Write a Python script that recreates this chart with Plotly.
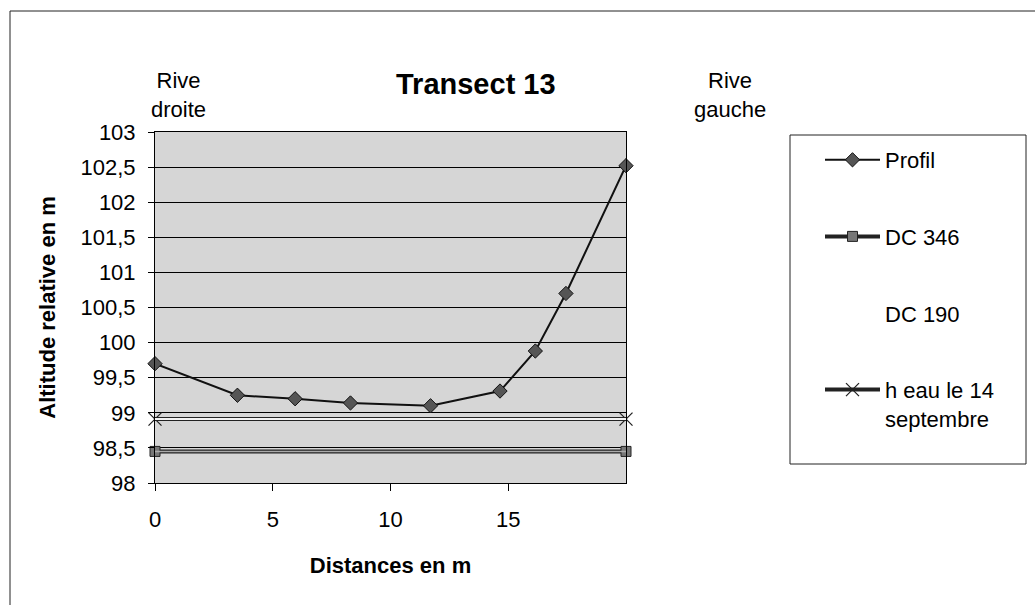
import plotly.graph_objects as go

# ---- data ----
profil_x = [0, 3.5, 5.95, 8.3, 11.7, 14.65, 16.15, 17.45, 20]
profil_y = [99.70, 99.25, 99.20, 99.14, 99.10, 99.31, 99.88, 100.70, 102.52]
dc346_x = [0, 20]
dc346_y = [98.45, 98.45]
dc190_x = [0, 20]
dc190_y = [None, None]
heau_x = [0, 20]
heau_y = [98.91, 98.91]
x_ticks = [0, 5, 10, 15]
y_ticks = [98, 98.5, 99, 99.5, 100, 100.5, 101, 101.5, 102, 102.5, 103]

FONT = "Liberation Sans, Arial, sans-serif"
W, H = 1035, 605
L, R, T, B = 155, 626, 132, 483  # plot area in pixels


def px(x):
    return (x - L) / (R - L)


def py(y):
    return (B - y) / (B - T)


fig = go.Figure()

# DC 346 (double-line look)
fig.add_trace(go.Scatter(x=dc346_x, y=dc346_y, mode="lines+markers", name="DC 346",
                         legendgroup="b", legendrank=2, cliponaxis=False,
                         line=dict(color="#222222", width=4),
                         marker=dict(symbol="square", size=10, color="#777777",
                                     line=dict(color="#222222", width=1))))
fig.add_trace(go.Scatter(x=dc346_x, y=dc346_y, mode="lines", showlegend=False,
                         hoverinfo="skip", cliponaxis=False,
                         line=dict(color="#aaaaaa", width=1.5)))
# DC 190 (no visible data)
fig.add_trace(go.Scatter(x=dc190_x, y=dc190_y, mode="lines", name="DC 190",
                         legendgroup="c", legendrank=3,
                         line=dict(color="rgba(0,0,0,0)", width=0)))
# h eau le 14 septembre
fig.add_trace(go.Scatter(x=heau_x, y=heau_y, mode="lines+markers",
                         name="h eau le 14<br>septembre", legendgroup="d",
                         legendrank=4, cliponaxis=False,
                         line=dict(color="#222222", width=4),
                         marker=dict(symbol="x-thin", size=13,
                                     line=dict(color="#222222", width=1.3))))
fig.add_trace(go.Scatter(x=heau_x, y=heau_y, mode="lines", showlegend=False,
                         hoverinfo="skip", cliponaxis=False,
                         line=dict(color="#f2f2f2", width=2)))
# Profil
fig.add_trace(go.Scatter(x=profil_x, y=profil_y, mode="lines+markers", name="Profil",
                         legendgroup="a", legendrank=1, cliponaxis=False,
                         line=dict(color="#111111", width=2),
                         marker=dict(symbol="diamond", size=11, color="#555555",
                                     line=dict(color="#111111", width=1))))

shapes = [
    # outer chart border (top and left visible)
    dict(type="line", xref="paper", yref="paper", x0=px(10), x1=px(1035), y0=py(11), y1=py(11),
         line=dict(color="#222222", width=1)),
    dict(type="line", xref="paper", yref="paper", x0=px(10), x1=px(10), y0=py(11), y1=py(605),
         line=dict(color="#222222", width=1)),
    # legend box
    dict(type="rect", xref="paper", yref="paper", x0=px(790), x1=px(1026), y0=py(135), y1=py(464),
         line=dict(color="#222222", width=1), fillcolor="white", layer="below"),
]

annotations = [
    dict(text="<b>Transect 13</b>", x=px(476), y=py(84), xref="paper", yref="paper",
         xanchor="center", yanchor="middle",
         showarrow=False, font=dict(size=29, family=FONT, color="black")),
    dict(text="Rive<br>droite", x=px(178), y=py(95), xref="paper", yref="paper",
         xanchor="center", yanchor="middle",
         showarrow=False, font=dict(size=22, family=FONT, color="black")),
    dict(text="Rive<br>gauche", x=px(730), y=py(95), xref="paper", yref="paper",
         xanchor="center", yanchor="middle",
         showarrow=False, font=dict(size=22, family=FONT, color="black")),
]

fig.update_layout(
    width=W, height=H,
    margin=dict(l=L, r=W - R, t=T, b=H - B, pad=0),
    paper_bgcolor="white",
    plot_bgcolor="#d6d6d6",
    separators=", ",
    font=dict(family=FONT, size=22, color="black"),
    showlegend=True,
    legend=dict(x=px(820), y=py(139), xanchor="left", yanchor="top",
                bgcolor="rgba(0,0,0,0)", borderwidth=0,
                font=dict(size=22, family=FONT), tracegroupgap=45,
                itemwidth=55, valign="top", traceorder="grouped"),
    shapes=shapes,
    annotations=annotations,
    xaxis=dict(range=[0, 20], tickvals=x_ticks, ticks="outside", ticklen=7,
               tickcolor="black", showline=True, linecolor="black", linewidth=1,
               mirror=True, showgrid=False, zeroline=False, ticklabelstandoff=10,
               title=dict(text="<b>Distances en m</b>", standoff=26,
                          font=dict(size=22, family=FONT))),
    yaxis=dict(range=[98, 103], tickvals=y_ticks, ticks="outside", ticklen=6,
               tickcolor="black", showline=True, linecolor="black", linewidth=1,
               mirror=True, showgrid=True, gridcolor="black", gridwidth=1,
               zeroline=False, tickformat=".1~f", ticklabelstandoff=8,
               title=dict(text="<b>Altitude relative en m</b>", standoff=18,
                          font=dict(size=22, family=FONT))),
)

fig.write_html("out.html")
